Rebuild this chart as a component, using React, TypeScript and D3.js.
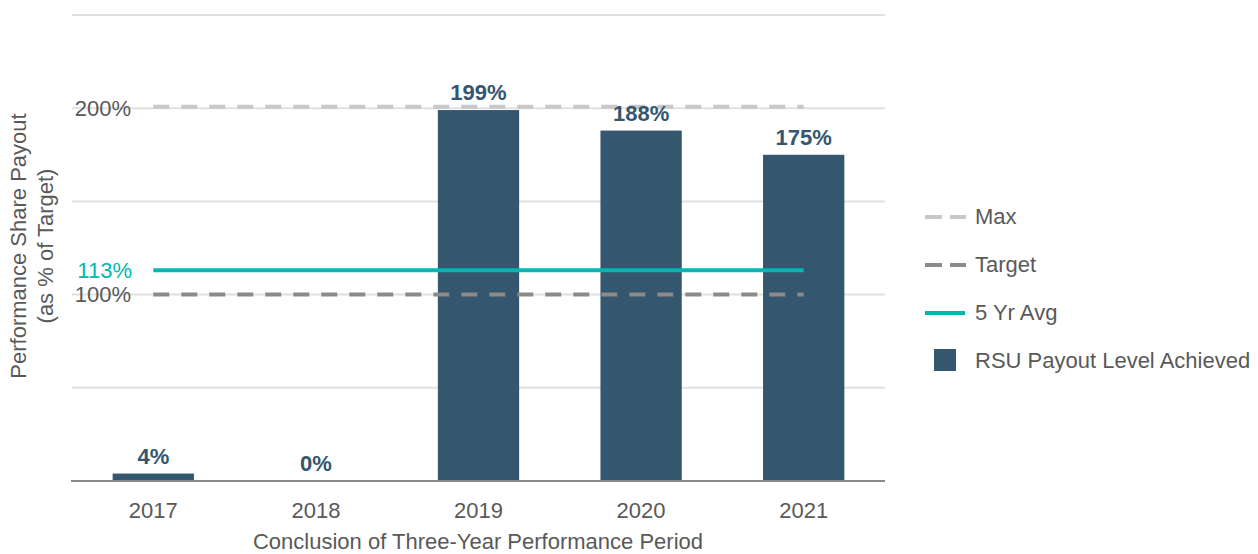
import React from "react";
import * as d3 from "d3";

const years = ["2017", "2018", "2019", "2020", "2021"];
const payout = [4, 0, 199, 188, 175];
const maxLevel = 200;
const targetLevel = 100;
const avgLevel = 113;
const gridTicks = [0, 50, 100, 150, 200, 250];
const labeledTicks = [100, 200];
const legendItems = ["Max", "Target", "5 Yr Avg", "RSU Payout Level Achieved"];

const W = 1258;
const H = 554;
const FONT = "'Liberation Sans', Arial, sans-serif";
const BAR = "#34566e";
const TEAL = "#00b8b0";
const TEXT = "#595959";
const FS = 22;

export default function App() {
  const x = d3.scaleBand<string>().domain(years).range([72, 885]).paddingInner(0.5).paddingOuter(0.25);
  const y = d3.scaleLinear().domain([0, 250]).range([481, 15]);
  const x0 = (x(years[0]) ?? 0) + x.bandwidth() / 2;
  const x1 = (x(years[years.length - 1]) ?? 0) + x.bandwidth() / 2;

  const legendY = (i: number) => 217 + i * 48;

  return (
    <svg width={W} height={H} style={{ position: "absolute", left: 0, top: 0, background: "#fff" }} fontFamily={FONT}>
      {/* gridlines */}
      {gridTicks.filter((t) => t > 0).map((t) => (
        <line key={t} x1={72} x2={885} y1={y(t)} y2={y(t)} stroke="#e0e0e0" strokeWidth={2} />
      ))}
      {/* bars */}
      {payout.map((v, i) => (
        <rect key={years[i]} x={x(years[i])} y={y(v)} width={x.bandwidth()} height={y(0) - y(v)} fill={BAR} />
      ))}
      {/* axis line */}
      <line x1={71} x2={885} y1={y(0)} y2={y(0)} stroke="#898989" strokeWidth={2} />
      {/* reference lines */}
      <line x1={x0} x2={x1} y1={y(maxLevel) - 1.5} y2={y(maxLevel) - 1.5} stroke="#c8c8c8" strokeWidth={4} strokeDasharray="16,12" />
      <line x1={x0} x2={x1} y1={y(targetLevel)} y2={y(targetLevel)} stroke="#8c8986" strokeWidth={4} strokeDasharray="16,12" />
      <line x1={x0} x2={x1} y1={y(avgLevel)} y2={y(avgLevel)} stroke={TEAL} strokeWidth={4} />
      {/* value labels */}
      {payout.map((v, i) => (
        <text key={"l" + years[i]} x={(x(years[i]) ?? 0) + x.bandwidth() / 2} y={y(v) - 10} textAnchor="middle" fontSize={FS} fontWeight="bold" fill={BAR}>
          {v}%
        </text>
      ))}
      {/* y tick labels */}
      {labeledTicks.map((t) => (
        <text key={"t" + t} x={131} y={y(t) + 2} textAnchor="end" dominantBaseline="middle" fontSize={FS} fill={TEXT}>
          {t}%
        </text>
      ))}
      <text x={132} y={y(avgLevel) + 2} textAnchor="end" dominantBaseline="middle" fontSize={FS} fill={TEAL}>
        {avgLevel}%
      </text>
      {/* x tick labels */}
      {years.map((yr) => (
        <text key={"x" + yr} x={(x(yr) ?? 0) + x.bandwidth() / 2} y={512} textAnchor="middle" dominantBaseline="middle" fontSize={FS} fill={TEXT}>
          {yr}
        </text>
      ))}
      {/* axis titles */}
      <text x={478} y={543} textAnchor="middle" dominantBaseline="middle" fontSize={FS} fill={TEXT}>
        Conclusion of Three-Year Performance Period
      </text>
      <text transform="translate(20,246) rotate(-90)" textAnchor="middle" dominantBaseline="middle" fontSize={FS} fill={TEXT}>
        Performance Share Payout
      </text>
      <text transform="translate(47,246) rotate(-90)" textAnchor="middle" dominantBaseline="middle" fontSize={FS} fill={TEXT}>
        (as % of Target)
      </text>
      {/* legend */}
      <line x1={925} x2={966} y1={legendY(0)} y2={legendY(0)} stroke="#c8c8c8" strokeWidth={4} strokeDasharray="17,8" />
      <line x1={925} x2={966} y1={legendY(1)} y2={legendY(1)} stroke="#8c8986" strokeWidth={4} strokeDasharray="17,8" />
      <line x1={925} x2={965} y1={legendY(2)} y2={legendY(2)} stroke={TEAL} strokeWidth={4} />
      <rect x={934} y={legendY(3) - 12} width={22} height={22} fill={BAR} />
      {legendItems.map((s, i) => (
        <text key={s} x={975} y={legendY(i) + 1} dominantBaseline="middle" fontSize={FS} fill={TEXT}>
          {s}
        </text>
      ))}
    </svg>
  );
}
